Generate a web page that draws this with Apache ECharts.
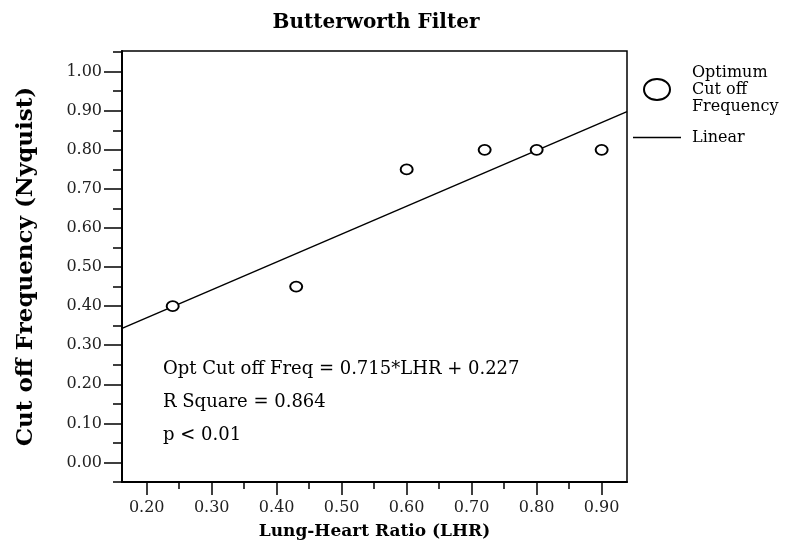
<!DOCTYPE html>
<html>
<head>
<meta charset="utf-8">
<script src="https://cdn.jsdelivr.net/npm/echarts@6/dist/echarts.min.js"></script>
<style>
  html, body { margin: 0; padding: 0; background: #fff; }
  #chart { width: 798px; height: 545px; }
</style>
</head>
<body>
<div id="chart"></div>
<script>
// observed points
var lhr = [0.24, 0.43, 0.60, 0.72, 0.80, 0.90];
var cutoff = [0.40, 0.45, 0.75, 0.80, 0.80, 0.80];
// fit line end points, read at the plot edges
var fitX = [0.162, 0.939];
var fitY = [0.343, 0.898];
// ticks
var xTicks = [0.20, 0.30, 0.40, 0.50, 0.60, 0.70, 0.80, 0.90];
var xMinorTicks = [0.25, 0.35, 0.45, 0.55, 0.65, 0.75, 0.85];
var yTicks = [0.00, 0.10, 0.20, 0.30, 0.40, 0.50, 0.60, 0.70, 0.80, 0.90, 1.00];
var yMinorTicks = [-0.05, 0.05, 0.15, 0.25, 0.35, 0.45, 0.55, 0.65, 0.75, 0.85, 0.95, 1.05];
var statsLines = ['Opt Cut off Freq = 0.715*LHR + 0.227', 'R Square = 0.864', 'p < 0.01'];

var serif = '"DejaVu Serif", "Liberation Serif", serif';
var xRange = [0.162, 0.939];
var yRange = [-0.05, 1.053];
var ellipse = 'path://M0,10.5 A13,10.5 0 1,1 26,10.5 A13,10.5 0 1,1 0,10.5 Z';
var dash = 'path://M0,0 H48 V1.5 H0 Z';

var chart = echarts.init(document.getElementById('chart'));

var pts = lhr.map(function(x, i){ return [x, cutoff[i]]; });
var fit = fitX.map(function(x, i){ return [x, fitY[i]]; });

function fmt(v){ return Number(v).toFixed(2); }

var options = {
  animation: false,
  backgroundColor: '#fff',
  title: {
    text: 'Butterworth Filter',
    left: 376, top: 13, textAlign: 'center', padding: 0,
    textStyle: { fontFamily: serif, fontWeight: 'bold', fontSize: 20, color: '#000' }
  },
  grid: {
    left: 122, top: 51, right: 171, bottom: 63,
    show: true, borderColor: '#000', borderWidth: 1.5, containLabel: false
  },
  legend: {
    orient: 'vertical',
    left: 633, top: 64, padding: 0,
    itemWidth: 48, itemHeight: 21, itemGap: 14,
    textStyle: { fontFamily: serif, fontSize: 16, color: '#000', lineHeight: 17, padding: [0, 0, 0, 6] },
    data: [
      { name: 'Optimum\nCut off\nFrequency', icon: ellipse,
        itemStyle: { color: '#fff', borderColor: '#000', borderWidth: 2 } },
      { name: 'Linear', icon: dash,
        itemStyle: { color: '#000', borderWidth: 0 } }
    ]
  },
  xAxis: [
    {
      type: 'value', min: xRange[0], max: xRange[1],
      name: 'Lung-Heart Ratio (LHR)', nameLocation: 'middle', nameGap: 41,
      nameTextStyle: { fontFamily: serif, fontWeight: 'bold', fontSize: 17, color: '#000' },
      axisLine: { onZero: false, lineStyle: { color: '#000', width: 2 } },
      axisTick: { customValues: xTicks, length: 13, lineStyle: { color: '#000', width: 1.5 } },
      axisLabel: { customValues: xTicks, margin: 18, formatter: fmt,
        fontFamily: serif, fontSize: 16, color: '#222' },
      splitLine: { show: false }
    },
    {
      type: 'value', position: 'bottom', min: xRange[0], max: xRange[1],
      axisLine: { show: false, onZero: false },
      axisTick: { customValues: xMinorTicks, length: 7, lineStyle: { color: '#000', width: 1.5 } },
      axisLabel: { show: false },
      splitLine: { show: false }
    }
  ],
  yAxis: [
    {
      type: 'value', min: yRange[0], max: yRange[1],
      name: 'Cut off Frequency (Nyquist)', nameLocation: 'middle', nameGap: 84,
      nameTextStyle: { fontFamily: serif, fontWeight: 'bold', fontSize: 23, color: '#000' },
      axisLine: { onZero: false, lineStyle: { color: '#000', width: 2 } },
      axisTick: { customValues: yTicks, length: 18, lineStyle: { color: '#000', width: 1.5 } },
      axisLabel: { customValues: yTicks, margin: 20, formatter: fmt,
        fontFamily: serif, fontSize: 16, color: '#222' },
      splitLine: { show: false }
    },
    {
      type: 'value', position: 'left', min: yRange[0], max: yRange[1],
      axisLine: { show: false, onZero: false },
      axisTick: { customValues: yMinorTicks, length: 9, lineStyle: { color: '#000', width: 1.5 } },
      axisLabel: { show: false },
      splitLine: { show: false }
    }
  ],
  graphic: [
    {
      type: 'text', left: 163, top: 353,
      style: {
        text: statsLines.join('\n'),
        font: '18px ' + serif, fill: '#000', lineHeight: 33
      }
    }
  ],
  series: [
    {
      name: 'Optimum\nCut off\nFrequency',
      type: 'scatter',
      data: pts,
      symbol: ellipse,
      symbolSize: [12, 10],
      itemStyle: { color: '#fff', borderColor: '#000', borderWidth: 1.8, opacity: 1 }
    },
    {
      name: 'Linear',
      type: 'line',
      data: fit,
      symbol: 'none',
      lineStyle: { color: '#000', width: 1.5 },
      z: 1
    }
  ]
};

chart.setOption(options);
</script>
</body>
</html>
